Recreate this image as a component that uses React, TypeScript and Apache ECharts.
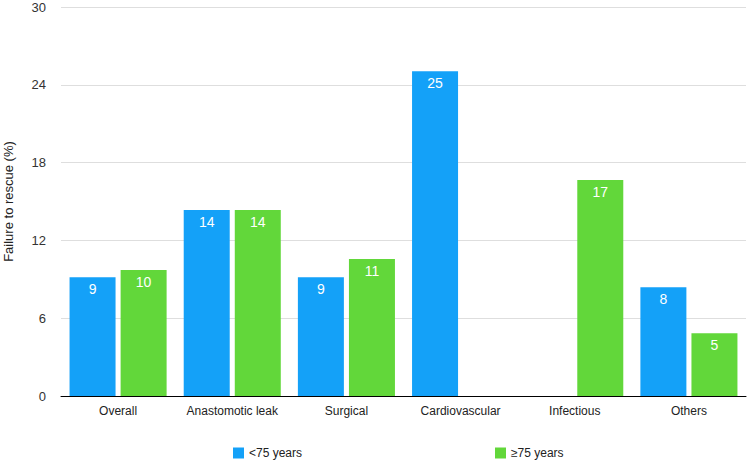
import React, { useEffect, useRef } from "react";
import * as echarts from "echarts";

const categories = ["Overall", "Anastomotic leak", "Surgical", "Cardiovascular", "Infectious", "Others"];
const under75 = [9.15, 14.35, 9.15, 25.05, 0, 8.38];
const over75 = [9.72, 14.35, 10.56, 0, 16.65, 4.83];
const yTicks = [0, 6, 12, 18, 24, 30];
const seriesNames = ["<75 years", "≥75 years"];

const FONT = "Helvetica, Arial, 'Liberation Sans', sans-serif";

export default function App() {
  const ref = useRef<HTMLDivElement>(null);
  useEffect(() => {
    document.body.style.margin = "0";
    if (!ref.current) return;
    const chart = echarts.init(ref.current, undefined, { renderer: "svg" });
    const label = {
      show: true,
      position: "insideTop",
      distance: 5,
      color: "#ffffff",
      fontSize: 14,
      fontFamily: FONT,
      formatter: (p: any) => (p.value > 0 ? String(Math.round(p.value)) : ""),
    };
    chart.setOption({
      animation: false,
      textStyle: { fontFamily: FONT },
      grid: { left: 61, right: 3, top: 7, bottom: 67, containLabel: false, outerBoundsMode: "none" },
      legend: [
        {
          data: [seriesNames[0]],
          left: 233,
          top: 447,
          padding: 0,
          itemWidth: 11,
          itemHeight: 11,
          icon: "rect",
          itemGap: 8,
          textStyle: { fontSize: 12, color: "#222", fontFamily: FONT },
        },
        {
          data: [seriesNames[1]],
          left: 495,
          top: 447,
          padding: 0,
          itemWidth: 11,
          itemHeight: 11,
          icon: "rect",
          itemGap: 8,
          textStyle: { fontSize: 12, color: "#222", fontFamily: FONT },
        },
      ],
      xAxis: {
        type: "category",
        data: categories,
        axisLine: { lineStyle: { color: "#000", width: 1 } },
        axisTick: { show: false },
        axisLabel: { interval: 0, color: "#222", fontSize: 12, margin: 9, fontFamily: FONT },
      },
      yAxis: {
        type: "value",
        min: yTicks[0],
        max: yTicks[yTicks.length - 1],
        interval: 6,
        name: "Failure to rescue (%)",
        nameLocation: "middle",
        nameGap: 46,
        nameTextStyle: { fontSize: 13, color: "#222", fontFamily: FONT },
        axisLine: { show: false },
        axisTick: { show: false },
        axisLabel: { color: "#333", fontSize: 13, margin: 15, fontFamily: FONT },
        splitLine: { lineStyle: { color: "#dedede", width: 1 } },
      },
      series: [
        {
          name: seriesNames[0],
          type: "bar",
          data: under75,
          barWidth: 46,
          barGap: "11%",
          itemStyle: { color: "#14A1F8" },
          label,
        },
        {
          name: seriesNames[1],
          type: "bar",
          data: over75,
          barWidth: 46,
          barGap: "11%",
          itemStyle: { color: "#62D73A" },
          label,
        },
      ],
    });
    return () => chart.dispose();
  }, []);
  return <div ref={ref} style={{ width: 749, height: 463 }} />;
}
